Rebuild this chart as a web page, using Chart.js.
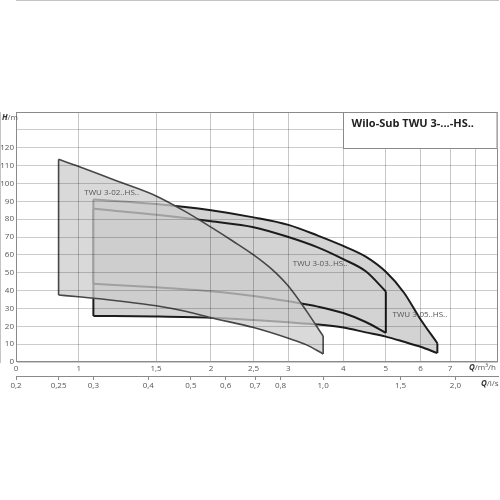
<!DOCTYPE html>
<html>
<head>
<meta charset="utf-8">
<script src="https://cdn.jsdelivr.net/npm/chart.js@4/dist/chart.umd.min.js"></script>
<style>
  html, body { margin: 0; padding: 0; background: #fff; }
  #wrap { width: 500px; height: 500px; }
  canvas { display: block; }
</style>
</head>
<body>
<div id="wrap"><canvas id="pump"></canvas></div>
<script>
// Q in m³/h, H in m
const q02Top = [0.9, 1.0, 1.25, 1.5, 1.75, 2.0, 2.25, 2.5, 2.75, 3.0, 3.3, 3.6];
const h02Top = [113.5, 109.5, 100.5, 93, 84.2, 75.5, 67.5, 60, 52, 42.5, 28.5, 14.5];
const q02Bot = [0.9, 1.0, 1.25, 1.5, 1.75, 2.0, 2.5, 3.0, 3.3, 3.6];
const h02Bot = [37.5, 36.5, 34, 31.5, 28.4, 24.8, 19.3, 13.3, 9.6, 4.5];

const q03 = [1.08, 1.5, 2.0, 2.5, 3.0, 3.5, 4.0, 4.5, 5.0];
const h03Top = [85.8, 82.5, 78.8, 75.5, 70, 64.2, 57.6, 50.8, 39.5];
const h03Bot = [43.8, 41.8, 39.6, 37, 34, 31, 27.4, 22.4, 16.3];

const q05 = [1.08, 1.5, 2.0, 2.5, 3.0, 3.5, 4.0, 4.5, 5.0, 5.5, 6.0, 6.55];
const h05Top = [91, 88.5, 85, 81, 76.8, 70.8, 65, 59, 50.5, 38.8, 23.8, 10.5];
const h05Bot = [25.8, 25.5, 24.8, 23.5, 22.2, 21, 19.3, 16.6, 14.2, 11.3, 8.5, 5];

const qTicks = [0.72, 1, 1.5, 2, 2.5, 3, 4, 5, 6, 7, 8];
const qTickLabels = ['0', '1', '1,5', '2', '2,5', '3', '4', '5', '6', '7', ''];
const lsTicks = [0.2, 0.25, 0.3, 0.4, 0.5, 0.6, 0.7, 0.8, 1.0, 1.5, 2.0];
const lsTickLabels = ['0,2', '0,25', '0,3', '0,4', '0,5', '0,6', '0,7', '0,8', '1,0', '1,5', '2,0'];

const seriesNames = ['TWU 3-02..HS..', 'TWU 3-03..HS..', 'TWU 3-05..HS..'];
const labelQ = [1.03, 3.07, 5.18];
const labelH = [95, 55, 26.3];

const FONT = "'Open Sans', 'DejaVu Sans', sans-serif";
Chart.defaults.font.family = FONT;

function pts(qs, hs) {
  return qs.map((q, i) => ({ x: q, y: hs[i] }));
}

// one envelope = top curve, two edges, bottom curve (filled up to the top curve)
function envelope(name, qTop, hTop, qBot, hBot, line, fill, width) {
  const t = qTop.length - 1, b = qBot.length - 1;
  const base = {
    showLine: true, pointRadius: 0, pointHoverRadius: 0,
    borderColor: line, borderWidth: width, fill: false, tension: 0
  };
  return [
    { ...base, label: name, data: pts(qTop, hTop), cubicInterpolationMode: 'monotone' },
    { ...base, label: name + ' min', data: [{ x: qBot[0], y: hBot[0] }, { x: qTop[0], y: hTop[0] }] },
    { ...base, label: name + ' max', data: [{ x: qBot[b], y: hBot[b] }, { x: qTop[t], y: hTop[t] }] },
    { ...base, label: name + ' low', data: pts(qBot, hBot), cubicInterpolationMode: 'monotone',
      backgroundColor: fill, fill: '-3' }
  ];
}

const datasets = [
  ...envelope(seriesNames[0], q02Top, h02Top, q02Bot, h02Bot, '#474747', 'rgba(204,204,204,0.75)', 1.6),
  ...envelope(seriesNames[1], q03, h03Top, q03, h03Bot, '#1c1c1c', '#d3d3d3', 2),
  ...envelope(seriesNames[2], q05, h05Top, q05, h05Bot, '#1c1c1c', '#d3d3d3', 2)
];

const tickFont = { family: FONT, size: 8 };

const sheetText = {
  id: 'sheetText',
  afterDraw(chart) {
    const { ctx, chartArea: a, scales } = chart;
    ctx.save();

    // plot frame
    ctx.strokeStyle = '#8a8a8a';
    ctx.lineWidth = 1;
    ctx.strokeRect(a.left + 0.5, a.top + 0.5, a.right - a.left - 1, a.bottom - a.top - 1);

    // title box
    const bx = Math.round(scales.x.getPixelForValue(4)) + 0.5;
    const by = Math.round(scales.y.getPixelForValue(120)) + 0.5;
    ctx.fillStyle = '#fff';
    ctx.fillRect(bx, a.top + 0.5, a.right - bx - 0.5, by - a.top);
    ctx.strokeRect(bx, a.top + 0.5, a.right - bx - 1, by - a.top - 0.5);
    ctx.fillStyle = '#222';
    ctx.font = 'bold 11px ' + FONT;
    ctx.textBaseline = 'middle';
    ctx.textAlign = 'left';
    ctx.fillText('Wilo-Sub TWU 3-...-HS..', bx + 8, a.top + 12);

    // series labels
    ctx.font = '8px ' + FONT;
    ctx.fillStyle = '#555';
    seriesNames.forEach((s, i) => {
      ctx.fillText(s, scales.x.getPixelForValue(labelQ[i]), scales.y.getPixelForValue(labelH[i]));
    });

    // axis unit labels
    function unit(sym, rest, x, y) {
      ctx.font = 'bold italic 8px ' + FONT;
      ctx.fillStyle = '#333';
      ctx.fillText(sym, x, y);
      const w = ctx.measureText(sym).width;
      ctx.font = '8px ' + FONT;
      ctx.fillStyle = '#555';
      ctx.fillText(rest, x + w, y);
    }
    unit('H', '/m', 2, a.top + 6);
    unit('Q', '/m³/h', 469, scales.x.top + 6);
    unit('Q', '/l/s', 481, scales.x2.top + 8);

    ctx.restore();
  }
};

new Chart(document.getElementById('pump'), {
  type: 'scatter',
  data: { datasets },
  plugins: [sheetText],
  options: {
    responsive: true,
    maintainAspectRatio: false,
    animation: false,
    layout: { padding: { top: 112, right: 2, bottom: 102, left: 0 } },
    plugins: { legend: { display: false }, tooltip: { enabled: false } },
    scales: {
      x: {
        type: 'logarithmic', position: 'bottom', min: 0.72, max: 9, weight: 0, bounds: 'data',
        afterBuildTicks: (s) => { s.ticks = qTicks.map((v) => ({ value: v })); s.min = 0.72; s.max = 9; },
        afterFit: (s) => { s.height = 14; },
        ticks: {
          autoSkip: false, maxRotation: 0, padding: 2, color: '#555', font: tickFont,
          callback: (v, i) => qTickLabels[i]
        },
        grid: { color: 'rgba(0,0,0,0.22)', drawTicks: false, z: 1 },
        border: { display: true, color: '#8a8a8a' }
      },
      x2: {
        type: 'logarithmic', position: 'bottom', min: 0.2, max: 2.5, weight: 1, bounds: 'data',
        afterBuildTicks: (s) => { s.ticks = lsTicks.map((v) => ({ value: v })); s.min = 0.2; s.max = 2.5; },
        afterFit: (s) => { s.height = 22; },
        ticks: {
          autoSkip: false, maxRotation: 0, padding: 1, color: '#555', font: tickFont,
          callback: (v, i) => lsTickLabels[i]
        },
        grid: { drawOnChartArea: false, drawTicks: true, tickLength: 4, color: '#8a8a8a' },
        border: { display: true, color: '#8a8a8a' }
      },
      y: {
        type: 'linear', position: 'left', min: 0, max: 140,
        afterFit: (s) => { s.width = 16; },
        ticks: {
          stepSize: 10, padding: 2, color: '#555', font: tickFont,
          callback: (v) => (v <= 120 ? v : '')
        },
        grid: { color: 'rgba(0,0,0,0.2)', drawTicks: false, z: 1 },
        border: { display: true, color: '#8a8a8a' }
      }
    }
  }
});
</script>
</body>
</html>
